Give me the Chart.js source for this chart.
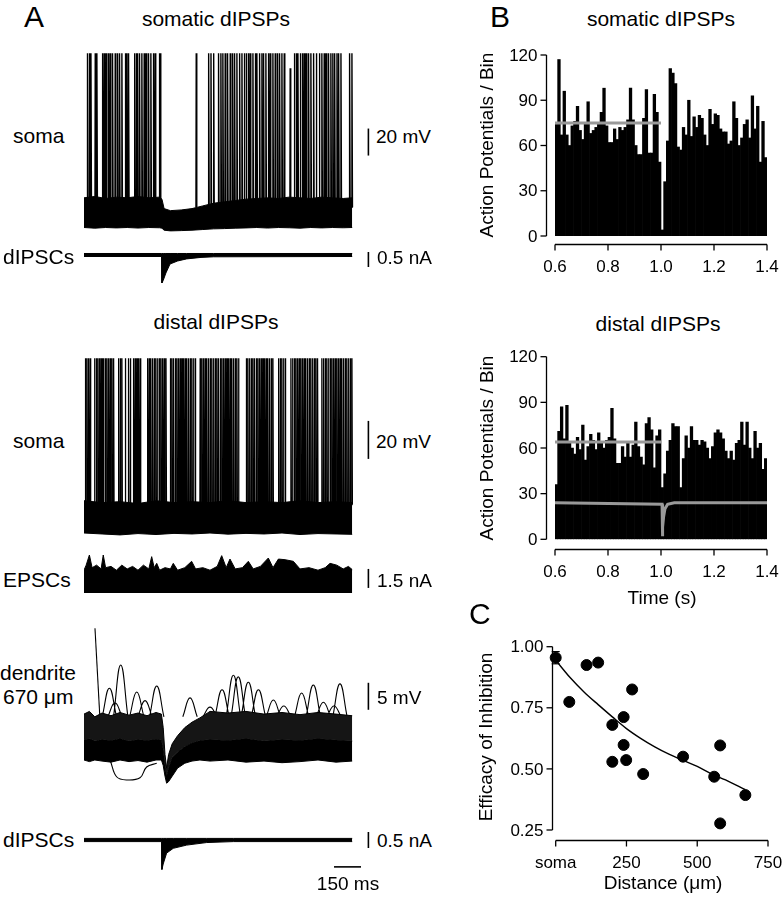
<!DOCTYPE html>
<html><head><meta charset="utf-8">
<script src="https://cdn.jsdelivr.net/npm/chart.js@4.4.1/dist/chart.umd.min.js"></script>
<style>
body{margin:0;background:#fff;}
#fig{position:relative;width:782px;height:900px;overflow:hidden;background:#fff;font-family:"Liberation Sans",Arial,sans-serif;color:#000;}
.t{position:absolute;white-space:nowrap;}
canvas{position:absolute;}
</style></head><body><div id="fig"></div>
<script>
// ================= DATA =================
// ---- Panel A : somatic dIPSPs (time in ms, soma in mV, currents in nA) ----
const somaticSpikeTimes = [18,28,37,61,70,102,111,122,135,144,157,172,185,196,209,228,237,246,280,289,296,307,320,333,344,357,370,385,394,417,422,622,691,704,719,746,759,770,783,796,811,824,835,848,863,876,889,900,913,922,937,950,959,974,987,996,1009,1024,1033,1048,1061,1074,1085,1098,1111,1144,1167,1178,1187,1200,1213,1222,1233,1246,1259,1274,1289,1306,1320,1333,1344,1357,1370,1381,1391,1404,1413,1426,1474,1487];
const somaticSpikePeak = 59;
const somaticShortSpikeTimes = [1144];
const somaticShortSpikePeaks = [48];
const somaBandTimes = [0,60,120,180,240,300,360,420,433,445,480,540,600,660,720,780,840,900,960,1020,1080,1140,1200,1260,1320,1380,1440,1490];
const somaBandUpper = [-48,-47,-48.5,-47.5,-48,-47,-48,-47.5,-49,-56,-57.5,-57,-56,-54,-52,-51,-50,-49,-48.5,-48,-48.5,-47.5,-48,-48.5,-47.5,-48,-48.5,-48];
const somaBandLower = [-70,-70.5,-70,-70.3,-70,-70.4,-70,-70.2,-70.5,-72,-72.5,-72.3,-72,-71.5,-71,-70.8,-70.5,-70.3,-70,-70.4,-70,-70.2,-70.5,-70,-70.3,-70,-70.2,-70];
const ipscTopTimes = [0,431,433,440,455,478,520,570,650,720,1490];
const ipscTopLower = [-0.05,-0.05,-0.93,-0.85,-0.6,-0.3,-0.2,-0.13,-0.08,-0.06,-0.05];
const ipscTopUpper = [0.05,0.05,0.05,0.05,0.05,0.05,0.05,0.05,0.05,0.05,0.05];

// ---- Panel A : distal dIPSPs ----
const distalSpikeTimes = [6,15,24,33,57,67,76,85,93,100,107,117,126,135,144,154,163,191,200,209,228,246,256,274,283,293,302,311,352,361,370,380,389,398,407,417,426,435,444,454,478,487,496,506,515,524,533,543,552,561,570,580,589,598,607,617,644,654,663,672,681,691,700,709,719,728,737,746,756,765,774,783,793,802,811,820,830,839,848,857,900,909,919,928,937,946,956,965,974,983,993,1002,1011,1020,1030,1039,1048,1080,1089,1098,1107,1117,1148,1157,1167,1176,1185,1194,1204,1213,1222,1231,1241,1250,1259,1269,1278,1287,1296,1320,1330,1339,1348,1357,1367,1376,1385,1394,1404,1413,1422,1431,1441,1450,1459,1469,1478,1487];
const distalSpikePeak = 22;
const distalBandTimes = [0,100,200,300,400,500,600,700,800,900,1000,1100,1200,1300,1400,1490];
const distalBandUpper = [-53,-54,-53.5,-54.5,-53,-54,-53.5,-54,-53,-54,-53.5,-54,-53,-54,-53.5,-54];
const distalBandLower = [-70,-70.5,-71,-70.3,-70.8,-70.2,-70.5,-70,-70.6,-70.2,-70.5,-70,-70.8,-70.3,-70.5,-70.7];
const epscTimes = [0,12,30,45,70,95,107,120,150,180,210,240,270,300,330,360,376,390,404,420,450,480,496,520,560,598,620,660,700,740,765,790,811,840,880,913,940,980,1024,1050,1080,1117,1163,1200,1250,1300,1340,1367,1404,1440,1469,1490];
const epscUpper = [1.8,2.2,3.0,2.0,2.2,1.9,3.0,2.0,2.1,1.8,2.2,1.9,2.1,1.8,2.2,1.9,2.87,2.0,2.34,1.8,2.0,1.9,2.34,1.8,2.0,2.5,1.9,2.0,1.8,2.1,2.95,2.0,2.68,1.9,2.0,2.5,1.9,2.1,2.76,2.0,2.68,2.63,2.5,1.9,2.0,1.8,2.0,2.34,2.2,1.9,2.1,1.85];
const dendTimes = [0,30,60,100,150,200,250,300,350,400,430,440,450,459,470,490,520,560,600,644,700,800,900,1000,1100,1200,1300,1400,1490];
const dendUpper = [-61.5,-61,-62,-61.3,-61.8,-61.2,-61.7,-61.3,-61.8,-61.2,-61.5,-64,-69,-71.5,-69,-67,-65.5,-64,-63,-62.2,-61,-61.3,-61,-61.5,-61.2,-61.6,-61.2,-61.5,-61.8];
const dendMid = [-66.3,-66,-66.5,-66.2,-66.4,-66,-66.5,-66.2,-66.4,-66.1,-66.3,-68,-71,-73,-71.5,-69.5,-68.5,-67.5,-66.8,-66.4,-66.2,-66.4,-66,-66.5,-66.2,-66.4,-66,-66.3,-66.5];
const dendLower = [-70,-70.3,-70,-70.2,-70.4,-70,-70.3,-70.1,-70.4,-70,-70,-71,-73,-74.3,-74,-73,-71.5,-70.6,-70.2,-70,-70.2,-70,-70.4,-70.2,-70.5,-70.3,-70,-70.4,-70.2];
const epspTimes = [141,172,204,293,339,404,589,700,767,830,857,913,969,1052,1110,1209,1274,1330,1389,1422];
const epspPeaks = [-56.7,-59.4,-52.4,-57.4,-59,-56.3,-58.5,-60.2,-57,-54.3,-54.6,-55.6,-57,-58.9,-60,-57.6,-56.1,-59.3,-60,-55.9];
const epspBase = -62;
const dendArtifactTimes = [61,89];
const dendArtifactValues = [-45.6,-62.6];
const dendOutlierTimes = [130,144,181,237,311,348,404];
const dendOutlierValues = [-69.5,-70,-73.1,-73.7,-73.3,-71.3,-70.6];
const ipscBotTimes = [0,431,433,440,459,496,570,681,830,1490];
const ipscBotLower = [-0.05,-0.05,-0.92,-0.75,-0.41,-0.26,-0.16,-0.08,-0.05,-0.05];
const ipscBotUpper = [0.05,0.05,0.05,0.05,0.05,0.05,0.05,0.05,0.05,0.05];

// ---- Panel B : histograms (10 ms bins from 0.6 s to 1.4 s) ----
const somaticCounts = [74,117,67,96,67,60,73,76,86,70,64,75,89,68,70,72,74,82,98,73,62,62,71,64,72,70,72,77,98,77,60,54,54,78,97,55,55,94,82,49,4,36,63,111,108,101,59,57,72,67,90,66,79,72,80,78,67,60,84,74,81,80,71,69,69,61,63,89,78,60,65,74,77,65,93,71,86,49,76,52];
const distalCounts = [36,71,87,66,88,63,60,56,67,59,75,52,61,69,65,59,70,63,60,65,67,86,66,50,50,61,54,63,54,62,77,61,54,49,76,80,72,47,68,72,34,43,58,65,76,74,74,34,53,68,60,74,65,65,62,65,64,60,53,61,70,72,70,66,58,53,58,52,63,65,77,62,77,60,53,71,60,63,46,53];
const histBins = somaticCounts.map((_, i) => +(0.605 + 0.01 * i).toFixed(3));
const somaticMeanLine = {t: [0.6, 1.0], v: [75, 75]};
const distalMeanLine = {t: [0.6, 1.0], v: [64, 64]};
const distalCurrentTimes = [0.6,1.004,1.005,1.007,1.01,1.015,1.025,1.05,1.4];
const distalCurrentValues = [24,23,2,8,15,20,23,24,24];
const histXTicks = [0.6,0.8,1.0,1.2,1.4];
const histXLabels = ['0.6','0.8','1.0','1.2','1.4'];
const histYTicks = [0,30,60,90,120];
const histYLabels = ['0','30','60','90','120'];

// ---- Panel C ----
const distances = [0,48,109,150,200,200,240,240,249,270,309,450,560,581,581,670];
const efficacy = [0.955,0.774,0.925,0.935,0.68,0.529,0.712,0.598,0.536,0.825,0.479,0.55,0.468,0.596,0.277,0.393];
const somaErrorLow = 0.93, somaErrorHigh = 0.98;
const fitDistance = [0,50,100,150,200,250,300,350,400,450,500,550,600,670];
const fitEfficacy = [0.945,0.875,0.815,0.763,0.713,0.665,0.625,0.59,0.56,0.535,0.51,0.48,0.455,0.415];
const cXTicks = [0,250,500,750];
const cXLabels = ['soma','250','500','750'];
const cYTicks = [0.25,0.5,0.75,1.0];
const cYLabels = ['0.25','0.50','0.75','1.00'];

// ================= HELPERS =================
const FONT = '"Liberation Sans", Arial, sans-serif';
const fig = document.getElementById('fig');
const pts = (xs, ys) => xs.map((x, i) => ({x, y: ys[i]}));
function spikeSeries(times, base, peak, up, down, shortT = [], shortP = []) {
  const out = [];
  times.forEach(t => {
    const k = shortT.indexOf(t);
    const p = k >= 0 ? shortP[k] : peak;
    out.push({x: t, y: base}, {x: t + up, y: p}, {x: t + down, y: base}, {x: t + down, y: null});
  });
  return out;
}
function archSeries(times, peaks, base, half) {
  const out = [];
  times.forEach((t, i) => { out.push({x: t - half, y: base}, {x: t, y: peaks[i]}, {x: t + half, y: base}, {x: t + half, y: null}); });
  return out;
}
function label(text, x, base, size, align) {
  const d = document.createElement('div');
  d.className = 't'; d.textContent = text;
  d.style.fontSize = size + 'px'; d.style.lineHeight = size + 'px';
  d.style.top = (base - 0.8465 * size) + 'px'; d.style.left = x + 'px';
  d.style.transform = 'translateX(' + (align === 'center' ? '-50%' : align === 'right' ? '-100%' : '0') + ')';
  fig.appendChild(d);
}
function vlabel(text, cx, cy, size) {
  const d = document.createElement('div');
  d.className = 't'; d.textContent = text;
  d.style.fontSize = size + 'px'; d.style.lineHeight = size + 'px';
  d.style.left = cx + 'px'; d.style.top = cy + 'px';
  d.style.transform = 'translate(-50%,-50%) rotate(-90deg)';
  fig.appendChild(d);
}
function makeCanvas(left, top, w, h) {
  const c = document.createElement('canvas');
  c.width = w; c.height = h;
  c.style.left = left + 'px'; c.style.top = top + 'px';
  c.style.width = w + 'px'; c.style.height = h + 'px';
  fig.appendChild(c); return c;
}
const baseOpts = () => ({
  responsive: false, animation: false, devicePixelRatio: 1, events: [],
  plugins: {legend: {display: false}, tooltip: {enabled: false}},
  elements: {point: {radius: 0}, line: {tension: 0}}
});
function traceChart(top, h, ymin, ymax, datasets) {
  const c = makeCanvas(84, top, 288, h);
  const o = baseOpts();
  o.layout = {padding: 0};
  o.scales = {x: {type: 'linear', min: 0, max: 1600, display: false}, y: {type: 'linear', min: ymin, max: ymax, display: false}};
  return new Chart(c, {type: 'line', data: {datasets}, options: o});
}
const blk = (data, extra) => Object.assign({data, borderColor: '#000', borderWidth: 1, fill: false, pointRadius: 0}, extra || {});
const SB_T = 1580; // time position of vertical scale bars

// offset axes drawn from the chart's own scales
const offsetAxes = {
  id: 'offsetAxes',
  afterDraw(chart, _a, o) {
    const {ctx, chartArea: ca} = chart; const x = chart.scales.x, y = chart.scales.y;
    ctx.save();
    ctx.strokeStyle = '#000'; ctx.fillStyle = '#000'; ctx.lineWidth = 1.3;
    ctx.font = o.size + 'px ' + FONT;
    const ax = Math.round(ca.left - o.yGap) + 0.5;
    ctx.beginPath(); ctx.moveTo(ax, y.getPixelForValue(o.yTicks[0])); ctx.lineTo(ax, y.getPixelForValue(o.yTicks[o.yTicks.length - 1])); ctx.stroke();
    ctx.textAlign = 'right'; ctx.textBaseline = 'middle';
    o.yTicks.forEach((v, i) => { const p = y.getPixelForValue(v); ctx.beginPath(); ctx.moveTo(ax, p); ctx.lineTo(ax - 6, p); ctx.stroke(); ctx.fillText(o.yLabels[i], ax - 9, p + 1); });
    const ay = Math.round(ca.bottom + o.xGap) + 0.5;
    ctx.beginPath(); ctx.moveTo(x.getPixelForValue(o.xTicks[0]), ay); ctx.lineTo(x.getPixelForValue(o.xTicks[o.xTicks.length - 1]), ay); ctx.stroke();
    ctx.textAlign = 'center'; ctx.textBaseline = 'alphabetic';
    o.xTicks.forEach((v, i) => { const p = x.getPixelForValue(v); ctx.beginPath(); ctx.moveTo(p, ay); ctx.lineTo(p, ay + 6); ctx.stroke(); ctx.fillText(o.xLabels[i], p, ay + 27); });
    ctx.restore();
  }
};

// ================= PANEL A =================
traceChart(45, 196, -80, 65.2, [
  blk(pts(somaBandTimes, somaBandUpper), {fill: '+1', backgroundColor: '#000'}),
  blk(pts(somaBandTimes, somaBandLower)),
  blk(spikeSeries(somaticSpikeTimes, -55, somaticSpikePeak, 1.5, 4.5, somaticShortSpikeTimes, somaticShortSpikePeaks), {borderWidth: 1.4, spanGaps: false}),
  blk([{x: SB_T, y: -16.7}, {x: SB_T, y: 3.3}], {borderWidth: 1.6})
]);
traceChart(240, 50, -1.1667, 0.5, [
  blk(pts(ipscTopTimes, ipscTopUpper), {fill: '+1', backgroundColor: '#000'}),
  blk(pts(ipscTopTimes, ipscTopLower)),
  blk([{x: SB_T, y: -0.4}, {x: SB_T, y: 0.1}], {borderWidth: 1.6})
]);
traceChart(340, 200, -73.68, 31.58, [
  blk(pts(distalBandTimes, distalBandUpper), {fill: '+1', backgroundColor: '#000'}),
  blk(pts(distalBandTimes, distalBandLower)),
  blk(spikeSeries(distalSpikeTimes, -55, distalSpikePeak, 1.5, 4), {borderWidth: 1.3, spanGaps: false}),
  blk([{x: SB_T, y: -31}, {x: SB_T, y: -11}], {borderWidth: 1.6})
]);
traceChart(545, 52, -0.316, 3.79, [
  blk(pts(epscTimes, epscUpper), {fill: {value: 0}, backgroundColor: '#000'}),
  blk([{x: SB_T, y: 0.4}, {x: SB_T, y: 1.9}], {borderWidth: 1.6})
]);
traceChart(620, 180, -77.41, -44.07, [
  blk(pts(dendTimes, dendUpper), {fill: '+1', backgroundColor: '#151515'}),
  blk(pts(dendTimes, dendMid), {fill: '+1', backgroundColor: '#000'}),
  blk(pts(dendTimes, dendLower)),
  blk(archSeries(epspTimes, epspPeaks, epspBase, 40), {borderWidth: 1.1, tension: 0.45, spanGaps: false}),
  blk(pts(dendArtifactTimes, dendArtifactValues), {borderWidth: 1.1}),
  blk(pts(dendOutlierTimes, dendOutlierValues), {borderWidth: 1.1, tension: 0.4}),
  blk([{x: SB_T, y: -60.7}, {x: SB_T, y: -55.7}], {borderWidth: 1.6})
]);
traceChart(820, 60, -1.25, 0.625, [
  blk(pts(ipscBotTimes, ipscBotUpper), {fill: '+1', backgroundColor: '#000'}),
  blk(pts(ipscBotTimes, ipscBotLower)),
  blk([{x: SB_T, y: -0.25}, {x: SB_T, y: 0.25}], {borderWidth: 1.6}),
  blk([{x: 1389, y: -0.84}, {x: 1539, y: -0.84}], {borderWidth: 1.6})
]);

// ================= PANEL B =================
function histChart(top, padTop, padBottom, counts, meanLine, extraLines, xGap) {
  const c = makeCanvas(460, top, 322, 250);
  const o = baseOpts();
  o.layout = {padding: {left: 95, right: 15, top: padTop, bottom: padBottom}};
  o.scales = {x: {type: 'linear', min: 0.6, max: 1.4, display: false, offset: false}, y: {type: 'linear', min: 0, max: 120, display: false}};
  o.plugins.offsetAxes = {size: 17, yGap: 9, xGap, yTicks: histYTicks, yLabels: histYLabels, xTicks: histXTicks, xLabels: histXLabels};
  const ds = [
    {type: 'line', data: pts(meanLine.t, meanLine.v), borderColor: '#999', borderWidth: 3, pointRadius: 0, order: 0},
    ...extraLines,
    {type: 'bar', data: pts(histBins, counts), backgroundColor: '#000', borderWidth: 0, barPercentage: 1, categoryPercentage: 1, order: 5}
  ];
  return new Chart(c, {type: 'bar', data: {datasets: ds}, options: o, plugins: [offsetAxes]});
}
histChart(40, 15, 54, somaticCounts, somaticMeanLine, [], 8);
histChart(340, 16.7, 50.7, distalCounts, distalMeanLine, [
  {type: 'line', data: pts(distalCurrentTimes, distalCurrentValues), borderColor: '#999', borderWidth: 3, pointRadius: 0, order: 1}
], 10);

// ================= PANEL C =================
(function () {
  const c = makeCanvas(460, 600, 322, 290);
  const o = baseOpts();
  o.layout = {padding: {left: 95.7, right: 14, top: 46.7, bottom: 60}};
  o.scales = {x: {type: 'linear', min: 0, max: 750, display: false}, y: {type: 'linear', min: 0.25, max: 1.0, display: false}};
  o.plugins.offsetAxes = {size: 17, yGap: 3.7, xGap: 10, yTicks: cYTicks, yLabels: cYLabels, xTicks: cXTicks, xLabels: cXLabels};
  new Chart(c, {type: 'scatter', data: {datasets: [
    {type: 'line', data: [{x: 0, y: somaErrorLow}, {x: 0, y: somaErrorHigh}], borderColor: '#000', borderWidth: 1.2, pointStyle: 'line', pointRadius: 4, pointBorderWidth: 1.2, pointBorderColor: '#000', clip: false},
    {type: 'scatter', data: pts(distances, efficacy), pointRadius: 5.5, pointBorderWidth: 1, backgroundColor: '#000', borderColor: '#000', clip: false},
    {type: 'line', data: pts(fitDistance, fitEfficacy), borderColor: '#000', borderWidth: 1.4, pointRadius: 0, cubicInterpolationMode: 'monotone', clip: false}
  ]}, options: o, plugins: [offsetAxes]});
})();

// ================= TEXT =================
label('A', 24, 27, 30, 'left');
label('B', 490, 27, 30, 'left');
label('C', 469, 624, 30, 'left');
label('somatic dIPSPs', 216, 26, 21, 'center');
label('somatic dIPSPs', 661, 26, 21, 'center');
label('soma', 13, 143, 21, 'left');
label('20 mV', 376, 143, 19, 'left');
label('dIPSCs', 3, 264, 21, 'left');
label('0.5 nA', 377, 264, 19, 'left');
label('distal dIPSPs', 216, 329, 21, 'center');
label('distal dIPSPs', 658, 331, 21, 'center');
label('soma', 13, 448, 21, 'left');
label('20 mV', 376, 448, 19, 'left');
label('EPSCs', 3, 587, 21, 'left');
label('1.5 nA', 377, 587, 19, 'left');
label('dendrite', 0, 680, 21, 'left');
label('670 \u03bcm', 3, 704, 21, 'left');
label('5 mV', 377, 704, 19, 'left');
label('dIPSCs', 3, 847, 21, 'left');
label('0.5 nA', 377, 847, 19, 'left');
label('150 ms', 348, 890, 19, 'center');
label('Time (s)', 662, 604, 19, 'center');
label('Distance (\u03bcm)', 663, 889, 19, 'center');
vlabel('Action Potentials / Bin', 486, 145, 19);
vlabel('Action Potentials / Bin', 486, 448, 19);
vlabel('Efficacy of Inhibition', 485, 737, 19);
</script></body></html>
